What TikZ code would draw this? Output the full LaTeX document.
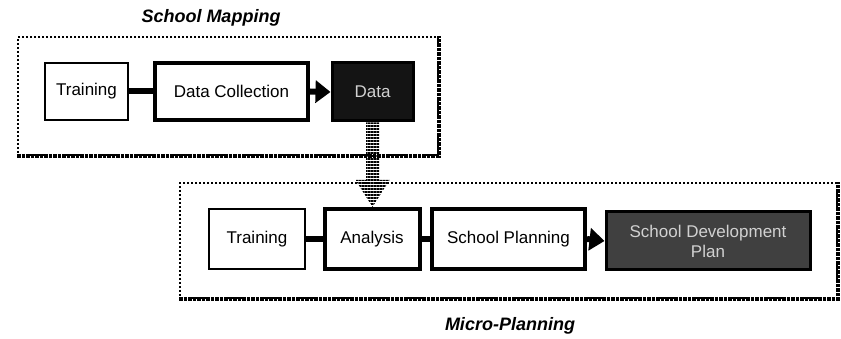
\documentclass[tikz,border=0pt]{standalone}
\usepackage{fontspec}
\setmainfont{Liberation Sans}
\usetikzlibrary{arrows.meta,patterns.meta,calc}
\begin{document}
\begin{tikzpicture}[x=1pt,y=-1pt,
  every node/.style={inner sep=0pt, font=\fontsize{17}{20}\selectfont},
  box/.style={draw, line width=2pt, minimum height=57pt, align=center},
  thickbox/.style={box, line width=4pt},
  darkbox/.style={draw, line width=3pt, fill=#1, text=black!18, minimum height=58pt, align=center},
  frame/.style={draw, line width=2pt, dotted},
  frameshade/.style={line width=3.5pt, densely dotted},
  title/.style={font=\fontsize{18}{21}\selectfont\bfseries\itshape},
  link/.style={line width=6pt},
  arr/.style={line width=6pt, -{Triangle[length=15pt 0 0, width=22pt 0 0]}}
]
\useasboundingbox (0,0) rectangle (841,339);
% frames
\node[frame, minimum width=420pt, minimum height=118pt] (f1) at (228,96) {};
\draw[frameshade] (f1.south west) -- (f1.south east) -- (f1.north east);
\node[frame, minimum width=657pt, minimum height=115pt] (f2) at (508.5,240.5) {};
\draw[frameshade] (f2.south west) -- (f2.south east) -- (f2.north east);
\node[title] (t1) at (211,18) {School Mapping};
\node[title] (t2) at (510,326) {Micro-Planning};
% top row
\node[box, minimum width=83pt] (tr1) at (86.5,91.5) {Training};
\node[thickbox, minimum width=153pt] (dc) at (231.5,91.5) {Data Collection};
\node[darkbox=black!92, minimum width=81pt] (data) at (372.5,92) {Data};
\draw[link] (tr1.east) -- (dc.west);
\draw[arr] (dc.east) -- (data.west);
% bottom row
\node[box, line width=1.5pt, minimum width=96pt, minimum height=60pt] (tr2) at (257,239) {Training};
\node[thickbox, minimum width=95pt, minimum height=60pt] (an) at (372,239) {Analysis};
\node[thickbox, minimum width=153pt, minimum height=60pt] (sp) at (508.5,239) {School Planning};
\node[darkbox=black!75, minimum width=204pt] (sdp) at (708,241) {School Development\\Plan};
\draw[link] (tr2.east) -- (an.west);
\draw[link] (an.east) -- (sp.west);
\draw[arr] (sp.east) -- (sdp.west);
% hatched arrow
\path[pattern={Lines[distance=3pt,line width=1.8pt]}]
  let \p1=(data.south), \p2=(an.north) in
  (\x1-6.5pt,\y1) -- (\x1-6.5pt,\y2+27pt) -- (\x1-17pt,\y2+27pt) -- (\x1,\y2)
  -- (\x1+17pt,\y2+27pt) -- (\x1+6.5pt,\y2+27pt) -- (\x1+6.5pt,\y1) -- cycle;
\end{tikzpicture}
\end{document}
